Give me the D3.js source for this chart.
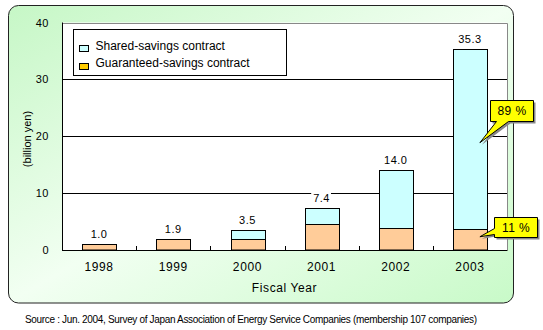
<!DOCTYPE html>
<html>
<head>
<meta charset="utf-8">
<script src="https://cdn.jsdelivr.net/npm/d3@7"></script>
<style>
  html, body { margin: 0; padding: 0; background: #fff; }
  svg { display: block; }
  text { font-family: Arial, "Liberation Sans", sans-serif; fill: #000; }
</style>
</head>
<body>
<svg id="chart" width="543" height="330"></svg>
<script>
// ---- data ----
const years = ["1998", "1999", "2000", "2001", "2002", "2003"];
const guaranteed = [1.0, 1.9, 2.0, 4.6, 3.8, 3.7];
const shared = [0.0, 0.0, 1.5, 2.8, 10.2, 31.6];
const totalLabels = ["1.0", "1.9", "3.5", "7.4", "14.0", "35.3"];
const yTicks = [0, 10, 20, 30, 40];
const seriesNames = ["Shared-savings contract", "Guaranteed-savings contract"];
const callouts = [
  { text: "89 %", year: "2003", series: "shared" },
  { text: "11 %", year: "2003", series: "guaranteed" }
];
const yTitle = "(billion yen)";
const xTitle = "Fiscal Year";
const source = "Source : Jun. 2004, Survey of Japan Association of Energy Service Companies (membership 107 companies)";

// ---- layout ----
const svg = d3.select("#chart");
const plot = { left: 62, right: 507, top: 22.5, bottom: 250 };
const colShared = "#ccffff", colGuar = "#ffcc99", colGuarLegend = "#ffcc00";

const defs = svg.append("defs");
const grad = defs.append("linearGradient").attr("id", "bg")
  .attr("x1", 0).attr("y1", 0).attr("x2", 1).attr("y2", 1);
grad.append("stop").attr("offset", "0%").attr("stop-color", "#c6f7c6");
grad.append("stop").attr("offset", "50%").attr("stop-color", "#f2fff2");
grad.append("stop").attr("offset", "100%").attr("stop-color", "#c8fac8");

// outer panel
svg.append("rect").attr("x", 8.5).attr("y", 5.5).attr("width", 505).attr("height", 297.5)
  .attr("rx", 10).attr("ry", 10).attr("fill", "url(#bg)").attr("stroke", "#222").attr("stroke-width", 1);

// plot background
svg.append("rect").attr("x", plot.left).attr("y", plot.top)
  .attr("width", plot.right - plot.left).attr("height", plot.bottom - plot.top).attr("fill", "#fff");

const x = d3.scaleBand().domain(years).range([plot.left, plot.right]).padding(0);
const y = d3.scaleLinear().domain([0, 40]).range([plot.bottom, plot.top]);
const barW = x.bandwidth() * 0.455;
const cx = d => x(d) + x.bandwidth() / 2;
const px = v => Math.round(v) + 0.5;

// gridlines
svg.append("g").selectAll("line").data(yTicks.filter(t => t > 0 && t < 40)).join("line")
  .attr("x1", plot.left).attr("x2", plot.right)
  .attr("y1", d => px(y(d))).attr("y2", d => px(y(d)))
  .attr("stroke", "#000").attr("stroke-width", 1);

// top & right border (gray)
svg.append("path")
  .attr("d", `M${plot.left},${px(plot.top)}H${px(plot.right)}V${plot.bottom}`)
  .attr("fill", "none").attr("stroke", "#888").attr("stroke-width", 1);

// bars
const rows = years.map((yr, i) => ({ yr, g: guaranteed[i], s: shared[i], total: guaranteed[i] + shared[i], label: totalLabels[i] }));
const bars = svg.append("g");
rows.forEach(r => {
  const x0 = Math.round(cx(r.yr) - barW / 2) + 0.5;
  const w = Math.round(barW);
  const yg = Math.round(y(r.g)) + 0.5;
  bars.append("rect").attr("x", x0).attr("y", yg).attr("width", w).attr("height", plot.bottom - yg)
    .attr("fill", colGuar).attr("stroke", "#000").attr("stroke-width", 1);
  if (r.s > 0) {
    const yt = Math.round(y(r.total)) + 0.5;
    bars.append("rect").attr("x", x0).attr("y", yt).attr("width", w).attr("height", yg - yt)
      .attr("fill", colShared).attr("stroke", "#000").attr("stroke-width", 1);
  }
});

// value labels with white background boxes
const labG = svg.append("g");
rows.forEach(r => {
  const top = y(r.total);
  const t = labG.append("text").attr("x", cx(r.yr)).attr("y", top - 10).attr("dy", "0.35em")
    .attr("text-anchor", "middle").attr("font-size", 11).attr("letter-spacing", 0.5).text(r.label);
  const bb = t.node().getBBox();
  labG.insert("rect", "text").attr("x", bb.x - 2).attr("y", Math.round(top) - 16)
    .attr("width", bb.width + 3).attr("height", 16).attr("fill", "#fff");
});

// axes lines
svg.append("line").attr("x1", px(plot.left)).attr("x2", px(plot.left)).attr("y1", plot.top).attr("y2", plot.bottom + 0.5)
  .attr("stroke", "#000");
svg.append("line").attr("x1", plot.left).attr("x2", plot.right + 0.5).attr("y1", px(plot.bottom)).attr("y2", px(plot.bottom))
  .attr("stroke", "#000");
// category boundary ticks (inward)
svg.append("g").selectAll("line").data(years.slice(1)).join("line")
  .attr("x1", d => px(x(d))).attr("x2", d => px(x(d)))
  .attr("y1", plot.bottom - 4).attr("y2", plot.bottom).attr("stroke", "#000");

// y axis labels
const yAxis = svg.append("g").attr("transform", `translate(${plot.left},0)`)
  .call(d3.axisLeft(y).tickValues(yTicks).tickSize(0).tickPadding(13));
yAxis.select(".domain").remove();
yAxis.selectAll("text").attr("font-size", 11).attr("font-family", "Arial, 'Liberation Sans', sans-serif").attr("fill", "#000").attr("letter-spacing", 0.5);

// x axis labels
const xAxis = svg.append("g").attr("transform", `translate(0,${plot.bottom})`)
  .call(d3.axisBottom(x).tickSize(0).tickPadding(12));
xAxis.select(".domain").remove();
xAxis.selectAll("text").attr("font-size", 12).attr("font-family", "Arial, 'Liberation Sans', sans-serif").attr("fill", "#000").attr("letter-spacing", 0.6);

// titles
svg.append("text").attr("x", (plot.left + plot.right) / 2).attr("y", 287.5).attr("dy", "0.35em")
  .attr("text-anchor", "middle").attr("font-size", 12).attr("letter-spacing", 0.6).text(xTitle);
svg.append("text").attr("transform", "translate(27,139) rotate(-90)").attr("dy", "0.35em")
  .attr("text-anchor", "middle").attr("font-size", 11).text(yTitle);

// legend
const lg = svg.append("g");
lg.append("rect").attr("x", 73.5).attr("y", 29.5).attr("width", 213).attr("height", 46)
  .attr("fill", "#fff").attr("stroke", "#000");
const legendCols = [colShared, colGuarLegend];
seriesNames.forEach((n, i) => {
  const yy = 45.5 + i * 18;
  lg.append("rect").attr("x", 79.5).attr("y", yy).attr("width", 9).attr("height", 6)
    .attr("fill", legendCols[i]).attr("stroke", "#000");
  lg.append("text").attr("x", 95.5).attr("y", 46 + i * 17).attr("dy", "0.35em")
    .attr("font-size", 12).text(n);
});

// callouts
const calloutGeom = [
  { bx: 490, by: 100, bw: 43, bh: 21, tip: "bottom" },
  { bx: 494, by: 217, bw: 43, bh: 20, tip: "left" }
];
callouts.forEach((c, i) => {
  const g = calloutGeom[i];
  const r = rows.find(d => d.yr === c.year);
  const tx = cx(c.year) + 10;
  const ty = c.series === "shared" ? y(r.g + r.s * 0.48) : y(r.g * 0.63);
  let d;
  const L = g.bx + 0.5, T = g.by + 0.5, R = g.bx + g.bw + 0.5, B = g.by + g.bh + 0.5;
  if (g.tip === "bottom") {
    d = `M${L},${T}H${R}V${B}H${L + 18}L${tx},${ty}L${L + 6},${B}H${L}Z`;
  } else {
    d = `M${L},${T}H${R}V${B}H${L}V${B - 3}L${tx},${ty}L${L},${B - 9}Z`;
  }
  svg.append("path").attr("d", d).attr("transform", "translate(2,2)").attr("fill", "#888");
  svg.append("path").attr("d", d).attr("fill", "#ffff00").attr("stroke", "#000").attr("stroke-width", 1);
  svg.append("text").attr("x", g.bx + g.bw / 2 + 0.5).attr("y", g.by + g.bh / 2 + 0.5).attr("dy", "0.35em")
    .attr("text-anchor", "middle").attr("font-size", 12).attr("letter-spacing", 0.4).text(c.text);
});

// source
svg.append("text").attr("x", 25).attr("y", 319).attr("dy", "0.35em")
  .attr("font-size", 10).attr("textLength", 452).attr("lengthAdjust", "spacing").text(source);
</script>
</body>
</html>
